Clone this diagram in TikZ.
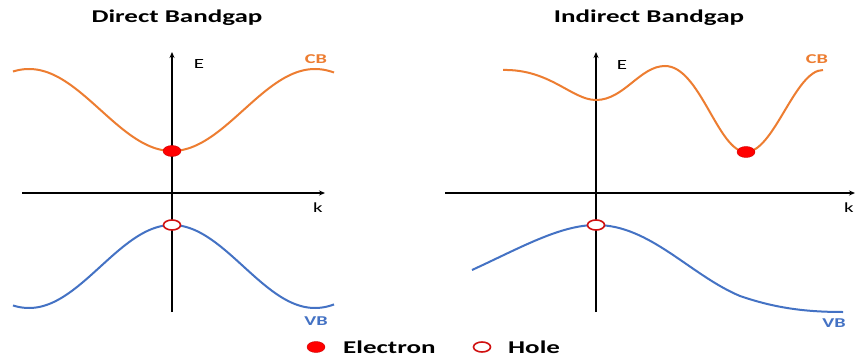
\documentclass[tikz,border=0pt]{standalone}
\usepackage{fontspec}
\setmainfont{Carlito}
\usetikzlibrary{arrows.meta,shapes.geometric}
\definecolor{cborange}{HTML}{ED7D31}
\definecolor{vbblue}{HTML}{4472C4}
\definecolor{dotred}{HTML}{FF0000}
\definecolor{holered}{HTML}{D01010}
\newcommand{\widetxt}[1]{\scalebox{1.5}[1]{#1}}
\tikzset{
  titletxt/.style={font=\bfseries\fontsize{18}{20}\selectfont, anchor=base, inner sep=0pt},
  legendtxt/.style={font=\bfseries\fontsize{18}{20}\selectfont, anchor=base west, inner sep=0pt},
  axislbl/.style={font=\fontsize{14}{16}\selectfont, anchor=base, inner sep=0pt},
  cblbl/.style={font=\bfseries\fontsize{13.5}{15}\selectfont, anchor=base, inner sep=0pt, text=cborange},
  vblbl/.style={font=\bfseries\fontsize{13.5}{15}\selectfont, anchor=base, inner sep=0pt, text=vbblue},
  axisline/.style={line width=1.4pt, black, -{Stealth[length=6pt,width=5pt]}},
  cbcurve/.style={line width=2pt, cborange},
  vbcurve/.style={line width=2pt, vbblue},
  electron/.style={ellipse, fill=dotred, draw=dotred!80!black, line width=0.4pt, minimum width=18pt, minimum height=11pt, inner sep=0pt},
  hole/.style={ellipse, fill=white, draw=holered, line width=1.6pt, minimum width=17pt, minimum height=10pt, inner sep=0pt}
}
\begin{document}
\begin{tikzpicture}[x=1pt,y=-1pt]
\useasboundingbox (0,0) rectangle (856,358);
\fill[white] (0,0) rectangle (856,358);

% ---------- Direct bandgap ----------
\node[titletxt] (t1) at (177,23) {\widetxt{Direct Bandgap}};
\coordinate (l-ybot) at (172,312);
\coordinate (l-ytop) at (172,52);
\coordinate (l-xl) at (22,193);
\coordinate (l-xr) at (325,193);
\draw[axisline] (l-ybot) -- (l-ytop);
\draw[axisline] (l-xl) -- (l-xr);
\node[axislbl] (l-E) at (199,69) {\widetxt{E}};
\node[axislbl] (l-k) at (318,212) {\widetxt{k}};
\draw[cbcurve, domain=13:334, samples=120, smooth, variable=\t]
  plot ({\t},{151-41*(1-cos(1.2587*(\t-172)))});
\draw[vbcurve, domain=13:334, samples=120, smooth, variable=\t]
  plot ({\t},{225+41.5*(1-cos(1.2587*(\t-172)))});
\node[cblbl] (l-CB) at (316,64) {\widetxt{CB}};
\node[vblbl] (l-VB) at (316,325) {\widetxt{VB}};
\node[electron] (l-e) at (172,151) {};
\node[hole] (l-h) at (172,225) {};

% ---------- Indirect bandgap ----------
\node[titletxt] (t2) at (649,23) {\widetxt{Indirect Bandgap}};
\coordinate (r-ybot) at (596,312);
\coordinate (r-ytop) at (596,52);
\coordinate (r-xl) at (445,193);
\coordinate (r-xr) at (855,193);
\draw[axisline] (r-ybot) -- (r-ytop);
\draw[axisline] (r-xl) -- (r-xr);
\node[axislbl] (r-E) at (622,70) {\widetxt{E}};
\node[axislbl] (r-k) at (849,212) {\widetxt{k}};
\draw[cbcurve] (503,70) .. controls (550,69) and (572,100) .. (596,100)
  .. controls (624,100) and (640,66) .. (665,66)
  .. controls (700,66) and (718,152) .. (746,152)
  .. controls (774,152) and (795,70) .. (823,70);
\draw[vbcurve] (472,270) .. controls (520,248) and (560,225) .. (596,225)
  .. controls (650,225) and (690,275) .. (740,296)
  .. controls (775,308) and (805,312) .. (843,312);
\node[cblbl] (r-CB) at (817,64) {\widetxt{CB}};
\node[vblbl] (r-VB) at (834,327) {\widetxt{VB}};
\node[electron] (r-e) at (746,152) {};
\node[hole] (r-h) at (596,225) {};

% ---------- Legend ----------
\node[electron] (lg-e) at (316,347) {};
\node[legendtxt] (lg-et) at (343,353) {\widetxt{Electron}};
\node[hole] (lg-h) at (482,347) {};
\node[legendtxt] (lg-ht) at (508,353) {\widetxt{Hole}};
\end{tikzpicture}
\end{document}
